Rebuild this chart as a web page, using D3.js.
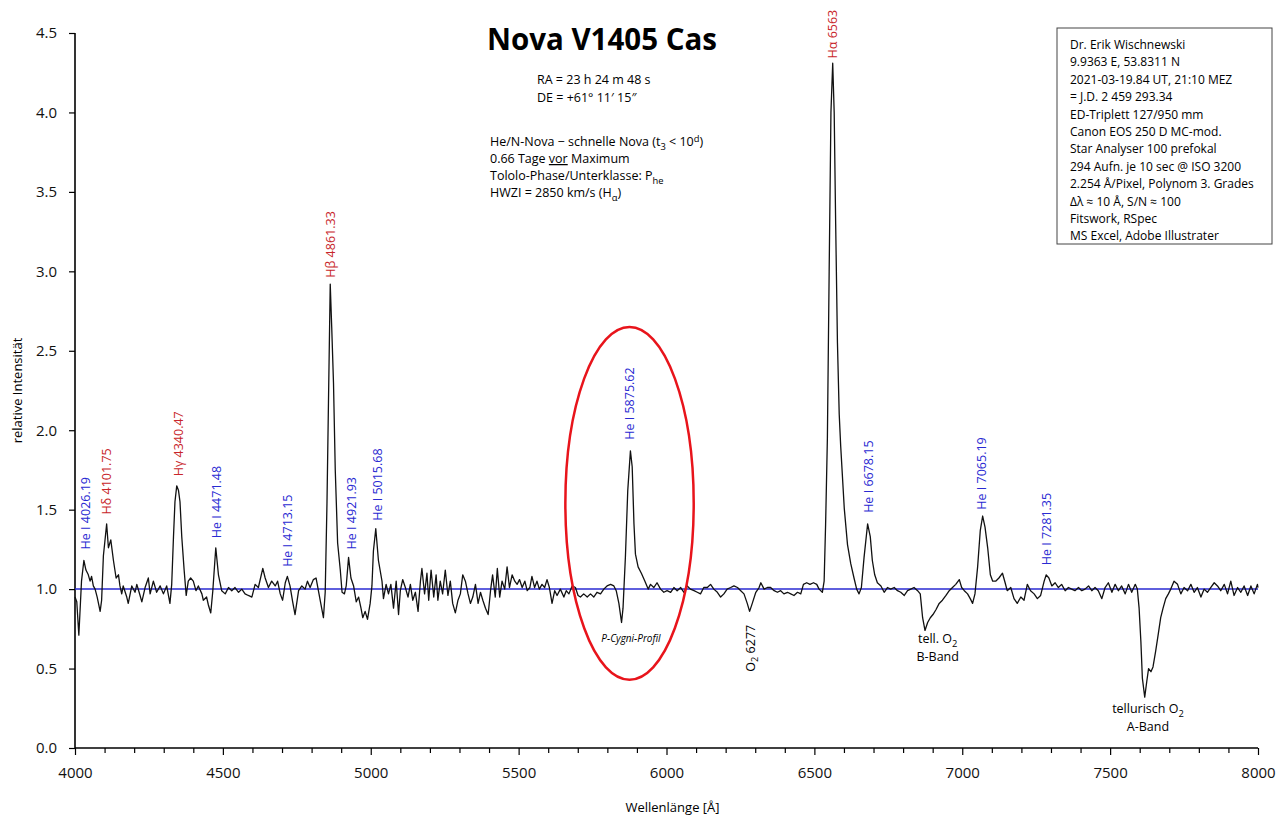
<!DOCTYPE html>
<html>
<head>
<meta charset="utf-8">
<script src="https://cdn.jsdelivr.net/npm/d3@7"></script>
<style>
  body { margin: 0; background: #fff; }
  text { font-family: "Open Sans", sans-serif; }
</style>
</head>
<body>
<div id="chart"></div>
<script>
// spectrum: [wavelength in Å, relative intensity]
const spectrum = [
  [4000,0.95],[4006,0.92],[4013,0.71],[4022,1.05],[4030,1.18],[4037,1.12],[4045,1.09],[4051,1.05],[4056,1.08],
  [4062,1.02],[4068,1.00],[4075,0.95],[4085,0.86],[4090,0.93],[4096,1.21],[4101,1.30],[4107,1.41],[4113,1.26],
  [4121,1.31],[4130,1.18],[4139,1.07],[4147,1.09],[4152,1.02],[4158,0.97],[4163,1.02],[4175,0.95],[4180,0.91],
  [4192,1.02],[4203,0.98],[4209,1.03],[4220,0.96],[4226,0.92],[4237,1.01],[4248,1.07],[4254,0.97],[4265,1.05],
  [4276,0.98],[4288,1.02],[4299,0.97],[4310,1.02],[4321,0.91],[4327,1.03],[4333,1.33],[4338,1.55],[4344,1.65],
  [4350,1.62],[4355,1.55],[4361,1.33],[4369,1.12],[4376,0.96],[4383,1.05],[4391,1.07],[4400,1.05],[4409,0.99],
  [4417,1.02],[4429,0.97],[4434,0.93],[4445,0.95],[4451,0.90],[4459,0.85],[4466,0.99],[4476,1.26],[4485,1.09],
  [4496,0.99],[4508,0.97],[4519,1.01],[4530,0.99],[4541,1.01],[4553,0.98],[4564,1.00],[4575,0.97],[4586,0.96],
  [4598,0.95],[4609,1.03],[4620,1.01],[4635,1.13],[4643,1.07],[4654,1.01],[4665,1.05],[4677,1.02],[4685,1.05],
  [4694,0.97],[4702,0.93],[4711,1.04],[4718,1.08],[4727,1.02],[4736,0.92],[4744,0.84],[4756,0.99],[4767,1.02],
  [4778,1.00],[4786,1.05],[4795,1.01],[4806,1.06],[4815,1.07],[4823,0.99],[4831,0.91],[4840,0.82],[4846,0.98],
  [4852,1.54],[4857,2.17],[4863,2.92],[4868,2.65],[4874,2.30],[4880,1.75],[4888,1.29],[4897,1.12],[4903,0.98],
  [4911,0.97],[4917,1.02],[4925,1.20],[4933,1.07],[4942,1.02],[4951,0.92],[4959,0.95],[4967,0.88],[4973,0.82],
  [4981,0.86],[4989,0.81],[4998,0.91],[5004,1.02],[5009,1.24],[5017,1.38],[5026,1.18],[5038,1.05],[5043,0.94],
  [5052,1.03],[5060,0.97],[5068,1.03],[5077,0.88],[5086,1.05],[5094,0.84],[5100,0.99],[5108,1.06],[5117,1.01],
  [5126,0.95],[5134,1.03],[5142,0.93],[5151,0.98],[5160,0.86],[5168,1.05],[5173,1.13],[5182,0.97],[5190,1.10],
  [5196,0.93],[5204,1.12],[5213,0.95],[5221,1.09],[5227,0.93],[5235,1.05],[5243,0.97],[5252,1.12],[5261,0.96],
  [5269,1.05],[5277,0.91],[5286,0.85],[5295,0.93],[5303,0.97],[5311,1.09],[5320,1.05],[5329,0.97],[5337,0.91],
  [5345,0.95],[5354,1.03],[5363,0.91],[5371,0.98],[5379,0.93],[5388,0.88],[5397,0.84],[5405,0.99],[5412,1.09],
  [5421,0.95],[5428,1.13],[5436,0.95],[5444,1.05],[5453,1.00],[5461,1.14],[5469,1.01],[5478,1.09],[5487,1.05],
  [5495,1.03],[5503,1.06],[5512,1.01],[5521,1.05],[5529,0.99],[5538,1.01],[5545,1.08],[5554,1.01],[5562,1.05],
  [5570,1.00],[5579,1.03],[5588,1.01],[5596,1.06],[5604,1.01],[5613,0.91],[5622,0.99],[5630,0.96],[5641,1.00],
  [5653,0.95],[5661,0.99],[5670,0.97],[5681,1.02],[5692,1.01],[5701,0.96],[5709,0.95],[5720,0.97],[5732,0.95],
  [5743,0.97],[5754,0.95],[5765,0.98],[5777,0.97],[5788,1.00],[5799,1.02],[5811,1.03],[5822,1.02],[5830,0.99],
  [5839,0.91],[5848,0.79],[5853,0.88],[5861,1.20],[5869,1.62],[5878,1.87],[5884,1.77],[5890,1.41],[5895,1.22],
  [5904,1.14],[5915,1.10],[5927,1.05],[5938,1.00],[5946,1.03],[5957,1.01],[5968,1.04],[5980,1.00],[5991,0.98],
  [6002,0.99],[6014,0.98],[6025,1.01],[6036,0.99],[6048,1.01],[6059,0.98],[6070,1.02],[6081,1.00],[6093,0.99],
  [6104,0.98],[6115,0.97],[6126,1.01],[6138,1.01],[6149,1.03],[6160,1.00],[6172,0.98],[6183,0.95],[6194,0.97],
  [6205,1.00],[6217,1.01],[6228,1.02],[6240,1.01],[6251,0.99],[6262,0.97],[6273,0.91],[6281,0.86],[6290,0.91],
  [6302,0.98],[6313,1.01],[6319,1.04],[6330,1.00],[6341,1.01],[6352,1.01],[6364,0.99],[6375,0.98],[6386,0.99],
  [6397,0.97],[6409,0.98],[6420,0.97],[6431,0.96],[6443,0.98],[6454,0.97],[6463,1.03],[6474,1.04],[6485,1.03],
  [6497,1.04],[6508,1.03],[6516,1.00],[6527,0.98],[6533,1.05],[6538,1.41],[6544,1.95],[6550,3.00],[6556,4.00],
  [6562,4.31],[6567,4.00],[6572,3.30],[6578,2.55],[6584,2.10],[6589,1.90],[6601,1.51],[6612,1.28],[6623,1.16],
  [6634,1.07],[6643,1.00],[6651,0.97],[6659,1.01],[6668,1.20],[6680,1.41],[6689,1.33],[6696,1.18],[6704,1.09],
  [6713,1.04],[6725,1.02],[6736,0.98],[6747,1.01],[6758,1.00],[6770,1.01],[6781,0.99],[6792,0.98],[6804,0.96],
  [6815,0.99],[6826,1.00],[6837,1.01],[6849,0.99],[6858,0.97],[6866,0.82],[6874,0.74],[6883,0.79],[6892,0.82],
  [6901,0.84],[6911,0.87],[6922,0.91],[6933,0.93],[6945,0.96],[6956,0.99],[6967,1.01],[6978,1.03],[6990,1.06],
  [6998,1.01],[7007,0.99],[7018,0.97],[7027,0.94],[7035,0.91],[7043,0.97],[7052,1.14],[7061,1.37],[7069,1.46],
  [7077,1.39],[7086,1.26],[7095,1.09],[7103,1.05],[7113,1.05],[7124,1.07],[7136,1.10],[7145,1.04],[7152,0.99],
  [7164,1.01],[7175,0.94],[7186,0.91],[7198,0.95],[7209,0.93],[7220,1.03],[7231,0.99],[7243,0.97],[7254,0.94],
  [7265,0.96],[7277,1.05],[7284,1.09],[7293,1.07],[7303,1.02],[7314,1.04],[7325,1.01],[7336,1.03],[7348,0.99],
  [7359,1.01],[7370,1.00],[7381,0.99],[7393,1.01],[7404,0.99],[7415,1.00],[7427,1.02],[7438,0.99],[7449,1.01],
  [7460,0.99],[7472,0.94],[7483,1.01],[7494,1.04],[7506,0.98],[7517,1.03],[7528,0.99],[7539,1.02],[7551,0.97],
  [7562,1.03],[7573,0.98],[7585,1.03],[7592,1.00],[7598,0.88],[7604,0.67],[7609,0.44],[7617,0.32],[7624,0.42],
  [7630,0.50],[7638,0.48],[7645,0.51],[7654,0.61],[7663,0.72],[7671,0.82],[7679,0.88],[7688,0.94],[7697,0.97],
  [7705,1.00],[7716,1.05],[7728,1.03],[7739,0.97],[7750,1.01],[7762,0.99],[7773,1.03],[7784,0.98],[7795,1.01],
  [7807,0.95],[7818,1.00],[7829,0.98],[7840,1.01],[7852,1.04],[7863,1.02],[7874,0.99],[7886,1.03],[7897,0.97],
  [7908,1.05],[7919,0.96],[7931,1.01],[7942,0.98],[7953,1.02],[7965,0.96],[7976,1.02],[7987,0.97],[7998,1.03],
  [8000,1.01]
];

const continuum = 1.0;
const xTicks = [4000, 4500, 5000, 5500, 6000, 6500, 7000, 7500, 8000];
const yTicks = [0, 0.5, 1.0, 1.5, 2.0, 2.5, 3.0, 3.5, 4.0, 4.5];

// emission line labels: text, kind (H = Balmer, He = helium), wavelength of label, intensity at label foot
const lineLabels = [
  { text: "He I 4026.19", kind: "He", at: 4037, level: 1.25 },
  { text: "Hδ 4101.75",   kind: "H",  at: 4106, level: 1.47 },
  { text: "Hγ 4340.47",   kind: "H",  at: 4349, level: 1.71 },
  { text: "He I 4471.48", kind: "He", at: 4479, level: 1.32 },
  { text: "He I 4713.15", kind: "He", at: 4719, level: 1.14 },
  { text: "Hβ 4861.33",   kind: "H",  at: 4863, level: 2.96 },
  { text: "He I 4921.93", kind: "He", at: 4934, level: 1.25 },
  { text: "He I 5015.68", kind: "He", at: 5022, level: 1.43 },
  { text: "He I 5875.62", kind: "He", at: 5876, level: 1.94 },
  { text: "Hα 6563",      kind: "H",  at: 6562, level: 4.34 },
  { text: "He I 6678.15", kind: "He", at: 6684, level: 1.48 },
  { text: "He I 7065.19", kind: "He", at: 7066, level: 1.50 },
  { text: "He I 7281.35", kind: "He", at: 7286, level: 1.15 }
];

const infoLines = [
  "Dr. Erik Wischnewski",
  "9.9363 E, 53.8311 N",
  "2021-03-19.84 UT, 21:10 MEZ",
  "= J.D. 2 459 293.34",
  "ED-Triplett 127/950 mm",
  "Canon EOS 250 D MC-mod.",
  "Star Analyser 100 prefokal",
  "294 Aufn. je 10 sec @ ISO 3200",
  "2.254 Å/Pixel, Polynom 3. Grades",
  "Δλ ≈ 10 Å, S/N ≈ 100",
  "Fitswork, RSpec",
  "MS Excel, Adobe Illustrater"
];

const width = 1285, height = 817;
const margin = { top: 33, right: 27, bottom: 69, left: 75 };

const svg = d3.select("#chart").append("svg")
    .attr("width", width)
    .attr("height", height)
    .style("background", "white");

const x = d3.scaleLinear().domain([4000, 8000]).range([margin.left, width - margin.right]);
const y = d3.scaleLinear().domain([0, 4.5]).range([height - margin.bottom, margin.top]);

const blue = "#2a2ad2", red = "#c8262b";

// text with sub/superscripts: parts are strings or {t, sub|sup|u}
function richText(g, px, py, parts, size, anchor) {
    const t = g.append("text").attr("x", px).attr("y", py)
        .attr("text-anchor", anchor || "start")
        .style("font-size", size + "px");
    let shift = 0;
    parts.forEach(p => {
        if (typeof p === "string") {
            t.append("tspan").attr("dy", -shift).text(p);
            shift = 0;
        } else if (p.sub || p.sup) {
            const s = p.sub ? size * 0.3 : -size * 0.35;
            t.append("tspan").attr("dy", s - shift).style("font-size", (size * 0.75) + "px").text(p.t);
            shift = s;
        } else if (p.u) {
            t.append("tspan").attr("dy", -shift).style("text-decoration", "underline").text(p.t);
            shift = 0;
        }
    });
    return t;
}

// axes
const xAxis = svg.append("g")
    .attr("transform", `translate(0,${y(0)})`)
    .call(d3.axisBottom(x).tickValues(xTicks).tickSize(7).tickPadding(12).tickFormat(d3.format("d")));
svg.append("g")
    .attr("transform", `translate(0,${y(0)})`)
    .call(d3.axisBottom(x).tickValues(d3.range(4100, 8000, 100).filter(v => v % 500)).tickSize(5).tickFormat(""))
    .select(".domain").remove();
const yAxis = svg.append("g")
    .attr("transform", `translate(${x(4000)},0)`)
    .call(d3.axisLeft(y).tickValues(yTicks).tickSize(6).tickPadding(12).tickFormat(d3.format(".1f")));

svg.selectAll(".domain").attr("stroke", "#000").attr("stroke-width", 1.6);
svg.selectAll(".tick line").attr("stroke", "#000").attr("stroke-width", 1.2);
svg.selectAll(".tick text").style("font-size", "15px").attr("fill", "#111")
    .style("font-family", "'Open Sans', sans-serif");
xAxis.selectAll(".domain").attr("d", `M${x(4000)},0H${x(8000)}`);
yAxis.selectAll(".domain").attr("d", `M0,${y(0)}V${y(4.5)}`);

svg.append("text")
    .attr("x", x(6000) + 6).attr("y", 812)
    .attr("text-anchor", "middle")
    .style("font-size", "13px")
    .text("Wellenlänge [Å]");

svg.append("text")
    .attr("transform", `translate(22,${y(2.25)}) rotate(-90)`)
    .attr("text-anchor", "middle")
    .style("font-size", "13px")
    .text("relative Intensität");

// continuum
svg.append("line")
    .attr("x1", x(4000)).attr("x2", x(8000))
    .attr("y1", y(continuum)).attr("y2", y(continuum))
    .attr("stroke", blue).attr("stroke-width", 1.5);

// spectrum
const line = d3.line().x(d => x(d[0])).y(d => y(d[1]));
svg.append("path")
    .datum(spectrum)
    .attr("fill", "none")
    .attr("stroke", "#111")
    .attr("stroke-width", 1.3)
    .attr("stroke-linejoin", "round")
    .attr("d", line);

// P-Cygni ellipse
svg.append("ellipse")
    .attr("cx", x(5875)).attr("cy", y(1.54))
    .attr("rx", x(6092) - x(5875)).attr("ry", y(0.43) - y(1.54))
    .attr("fill", "none").attr("stroke", "#e8141b").attr("stroke-width", 2.5);

// line labels
svg.selectAll(".line-label")
    .data(lineLabels)
    .join("text")
    .attr("class", "line-label")
    .attr("transform", d => `translate(${x(d.at)},${y(d.level)}) rotate(-90)`)
    .attr("dy", "0.36em")
    .attr("fill", d => d.kind === "H" ? red : blue)
    .style("font-size", "12.5px")
    .text(d => d.text);

// telluric and P-Cygni notes
const o2 = svg.append("g").attr("transform", `translate(${x(6283)},${y(0.48)}) rotate(-90)`);
richText(o2, 0, 4.5, ["O", { t: "2", sub: true }, "  6277"], 12.5);

svg.append("text")
    .attr("x", x(5880)).attr("y", y(0.67))
    .attr("text-anchor", "middle")
    .style("font-size", "10px").style("font-style", "italic")
    .text("P-Cygni-Profil");

richText(svg, x(6917), y(0.66), ["tell. O", { t: "2", sub: true }], 12.5, "middle");
svg.append("text").attr("x", x(6917)).attr("y", y(0.55)).attr("text-anchor", "middle")
    .style("font-size", "12.5px").text("B-Band");

richText(svg, x(7628), y(0.22), ["tellurisch O", { t: "2", sub: true }], 12.5, "middle");
svg.append("text").attr("x", x(7628)).attr("y", y(0.11)).attr("text-anchor", "middle")
    .style("font-size", "12.5px").text("A-Band");

// title + header notes
svg.append("text")
    .attr("x", 602).attr("y", 50)
    .attr("text-anchor", "middle")
    .style("font-size", "29.5px").style("font-weight", "bold")
    .text("Nova V1405 Cas");

richText(svg, 537, 84, ["RA = 23 h 24 m 48 s"], 12.5);
richText(svg, 537, 102, ["DE = +61° 11′ 15″"], 12.5);

richText(svg, 490, 146, ["He/N-Nova − schnelle Nova (t", { t: "3", sub: true }, " < 10", { t: "d", sup: true }, ")"], 12.5);
richText(svg, 490, 163, ["0.66 Tage ", { t: "vor", u: true }, " Maximum"], 12.5);
richText(svg, 490, 180, ["Tololo-Phase/Unterklasse: P", { t: "he", sub: true }], 12.5);
richText(svg, 490, 197, ["HWZI = 2850 km/s (H", { t: "α", sub: true }, ")"], 12.5);

// info box
const box = svg.append("g").attr("transform", "translate(1057,28)");
box.append("rect")
    .attr("width", 215).attr("height", 216)
    .attr("fill", "white").attr("stroke", "#444").attr("stroke-width", 1);
box.selectAll("text.info")
    .data(infoLines)
    .join("text")
    .attr("class", "info")
    .attr("x", 13)
    .attr("y", (d, i) => 21 + i * 17.4)
    .style("font-size", "12px")
    .text(d => d);
</script>
</body>
</html>
